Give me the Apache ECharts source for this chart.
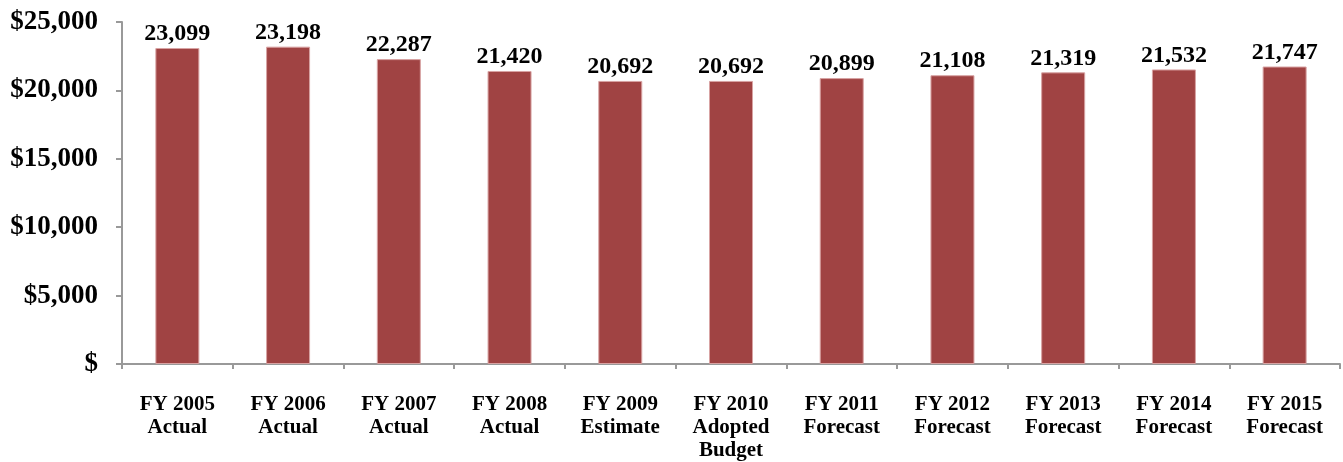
<!DOCTYPE html>
<html>
<head>
<meta charset="utf-8">
<script src="https://cdn.jsdelivr.net/npm/echarts@6/dist/echarts.min.js"></script>
<style>
  html, body { margin: 0; padding: 0; background: #fff; }
  #chart { width: 1343px; height: 462px; }
</style>
</head>
<body>
<div id="chart"></div>
<script>
// Fiscal year categories (multi-line labels)
const categories = [
  'FY 2005\nActual', 'FY 2006\nActual', 'FY 2007\nActual', 'FY 2008\nActual',
  'FY 2009\nEstimate', 'FY 2010\nAdopted\nBudget', 'FY 2011\nForecast',
  'FY 2012\nForecast', 'FY 2013\nForecast', 'FY 2014\nForecast', 'FY 2015\nForecast'
];
// Amounts per fiscal year
const values = [23099, 23198, 22287, 21420, 20692, 20692, 20899, 21108, 21319, 21532, 21747];
// Y axis ticks
const yTicks = [0, 5000, 10000, 15000, 20000, 25000];

const serif = '"Liberation Serif", "Times New Roman", serif';
const axisGrey = '#999999';

const chart = echarts.init(document.getElementById('chart'), null, { renderer: 'canvas' });
chart.setOption({
  animation: false,
  grid: { left: 122, right: 3, top: 22, bottom: 93, containLabel: false },
  xAxis: {
    type: 'category',
    data: categories,
    axisLine: { lineStyle: { color: axisGrey, width: 2 } },
    axisTick: { show: true, alignWithLabel: false, length: 5, lineStyle: { color: axisGrey, width: 2 } },
    axisLabel: {
      interval: 0,
      margin: 29,
      fontFamily: serif,
      fontWeight: 'bold',
      fontSize: 21,
      lineHeight: 23,
      color: '#000'
    }
  },
  yAxis: {
    type: 'value',
    min: yTicks[0],
    max: yTicks[yTicks.length - 1],
    interval: yTicks[1] - yTicks[0],
    splitLine: { show: false },
    axisLine: { show: true, lineStyle: { color: axisGrey, width: 2 } },
    axisTick: { show: true, length: 6, lineStyle: { color: axisGrey, width: 2 } },
    axisLabel: {
      margin: 24,
      fontFamily: serif,
      fontWeight: 'bold',
      fontSize: 27,
      color: '#000',
      formatter: v => v === 0 ? '$' : '$' + v.toLocaleString('en-US')
    }
  },
  series: [{
    type: 'bar',
    data: values,
    barWidth: 44,
    itemStyle: { color: '#a04343', borderColor: '#d8a3a3', borderWidth: 1 },
    label: {
      show: true,
      position: 'top',
      distance: 2,
      fontFamily: serif,
      fontWeight: 'bold',
      fontSize: 24,
      color: '#000',
      formatter: p => p.value.toLocaleString('en-US')
    }
  }]
});
</script>
</body>
</html>
